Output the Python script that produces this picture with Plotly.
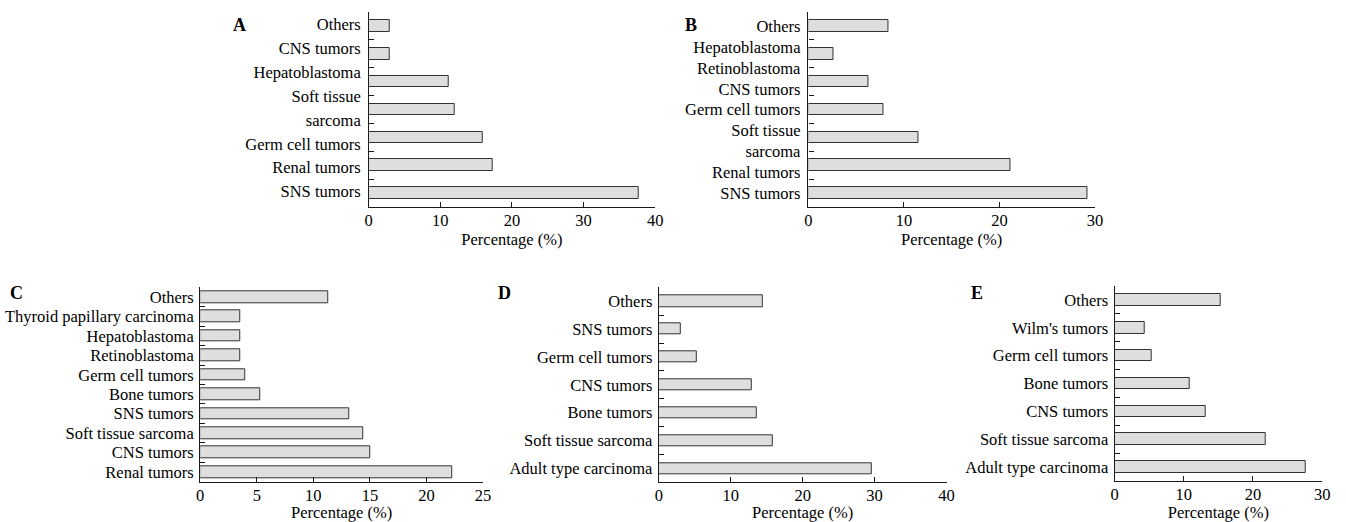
import plotly.graph_objects as go

# ---------------- data ----------------
a_cats = ["Others", "CNS tumors", "Hepatoblastoma", "Soft tissue sarcoma",
          "Germ cell tumors", "Renal tumors", "SNS tumors"]
a_vals = [3.0, 3.0, 11.2, 12.0, 15.9, 17.3, 37.7]
a_labels = ["Others", "CNS tumors", "Hepatoblastoma", "Soft tissue", "sarcoma",
            "Germ cell tumors", "Renal tumors", "SNS tumors"]

b_cats = ["Others", "Hepatoblastoma", "CNS tumors", "Germ cell tumors",
          "Soft tissue sarcoma", "Renal tumors", "SNS tumors"]
b_vals = [8.4, 2.6, 6.3, 7.9, 11.5, 21.2, 29.2]
b_labels = ["Others", "Hepatoblastoma", "Retinoblastoma", "CNS tumors",
            "Germ cell tumors", "Soft tissue", "sarcoma", "Renal tumors", "SNS tumors"]

c_cats = ["Others", "Thyroid papillary carcinoma", "Hepatoblastoma", "Retinoblastoma",
          "Germ cell tumors", "Bone tumors", "SNS tumors", "Soft tissue sarcoma",
          "CNS tumors", "Renal tumors"]
c_vals = [11.3, 3.5, 3.5, 3.5, 4.0, 5.3, 13.2, 14.4, 15.0, 22.3]

d_cats = ["Others", "SNS tumors", "Germ cell tumors", "CNS tumors", "Bone tumors",
          "Soft tissue sarcoma", "Adult type carcinoma"]
d_vals = [14.4, 3.0, 5.3, 12.9, 13.6, 15.8, 29.6]

e_cats = ["Others", "Wilm's tumors", "Germ cell tumors", "Bone tumors", "CNS tumors",
          "Soft tissue sarcoma", "Adult type carcinoma"]
e_vals = [15.3, 4.3, 5.4, 10.8, 13.1, 21.9, 27.6]

x_title = "Percentage (%)"
panel_letters = ["A", "B", "C", "D", "E"]

# ---------------- style ----------------
W, H = 1346, 522
SERIF = "Liberation Serif, Times New Roman, serif"
FONT = dict(family=SERIF, size=16.5, color="#000")
LINE = "#1a1a1a"
BAR_FILL = "#dedede"
BAR_EDGE = "#333333"


def px_x(p):
    return p / W


def px_y(p):
    return 1 - p / H


panels = [
    # cats, vals, xmax, dtick, bar width, x domain px, y domain px (top, bottom), show cat labels
    (a_cats, a_vals, 40, 10, 0.42, (368, 657), (12, 207), False),
    (b_cats, b_vals, 30, 10, 0.42, (811.7, 1100.7), (12, 207), False),
    (c_cats, c_vals, 25, 5, 0.60, (198, 483.3), (287.3, 481.7), True),
    (d_cats, d_vals, 40, 10, 0.40, (660.7, 951), (287.3, 482.3), True),
    (e_cats, e_vals, 30, 10, 0.42, (1120.7, 1330), (286, 481), True),
]

fig = go.Figure()
layout = dict(
    width=W, height=H, margin=dict(l=0, r=0, t=0, b=0),
    paper_bgcolor="white", plot_bgcolor="white", showlegend=False,
    font=FONT, bargap=0,
)

for i, (cats, vals, xmax, dt, bw, (x0, x1), (yt, yb), show_lab) in enumerate(panels):
    k = "" if i == 0 else str(i + 1)
    fig.add_trace(go.Bar(
        x=vals, y=cats, orientation="h", width=bw,
        marker=dict(color=BAR_FILL, line=dict(color=BAR_EDGE, width=1)),
        xaxis="x" + k, yaxis="y" + k, hoverinfo="x+y",
    ))
    n = len(cats)
    layout["xaxis" + k] = dict(
        domain=[px_x(x0), px_x(x1)], anchor="y" + k, range=[0, xmax],
        tick0=0, dtick=dt, ticks="inside", ticklen=5, tickwidth=1.2, tickcolor=LINE,
        showline=True, linecolor=LINE, linewidth=1.3, showgrid=False, zeroline=False,
        tickfont=FONT, ticklabelstandoff=-2,
        title=dict(text=x_title, font=FONT, standoff=0),
        fixedrange=True,
    )
    layout["yaxis" + k] = dict(
        domain=[px_y(yb), px_y(yt)], anchor="x" + k, type="category",
        categoryorder="array", categoryarray=cats, range=[n - 0.5, -0.5],
        tickmode="linear", tick0=0, dtick=1,
        tickson="boundaries", ticks="inside", ticklen=5, tickwidth=1.2, tickcolor=LINE,
        showline=True, linecolor=LINE, linewidth=1.3, showgrid=False, zeroline=False,
        showticklabels=show_lab, tickfont=FONT, ticklabelstandoff=2,
        fixedrange=True,
    )

# label axes for panels A and B (text lines do not align with bar slots in the original)
for idx, (labels, rng) in enumerate([(a_labels, [7.64, -0.5]), (b_labels, [8.67, -0.686])]):
    k = "" if idx == 0 else "2"
    ax_id = str(6 + idx)
    yt, yb = panels[idx][6]
    # empty helper trace so that the overlaid label axis is rendered
    fig.add_trace(go.Scatter(x=[None], y=[None], xaxis="x" + k, yaxis="y" + ax_id,
                             mode="markers", showlegend=False, hoverinfo="skip"))
    layout["yaxis" + ax_id] = dict(
        domain=[px_y(yb), px_y(yt)], anchor="x" + k, overlaying="y" + k, side="left",
        type="linear", range=rng, tickmode="array",
        tickvals=list(range(len(labels))), ticktext=labels,
        ticks="", showline=False, showgrid=False, zeroline=False,
        tickfont=FONT, ticklabelstandoff=7, fixedrange=True,
    )

# panel letters
letter_pos = [(238, 25), (693, 25), (13, 293), (505, 293), (982, 293)]
layout["annotations"] = [
    dict(text="<b>%s</b>" % t, x=px_x(px), y=px_y(py), xref="paper", yref="paper",
         xanchor="center", yanchor="middle", showarrow=False,
         font=dict(family=SERIF, size=18, color="#000"))
    for t, (px, py) in zip(panel_letters, letter_pos)
]

fig.update_layout(**layout)
fig.write_html("out.html", config={"displayModeBar": False},
               post_script="document.body.style.margin='0px';")
